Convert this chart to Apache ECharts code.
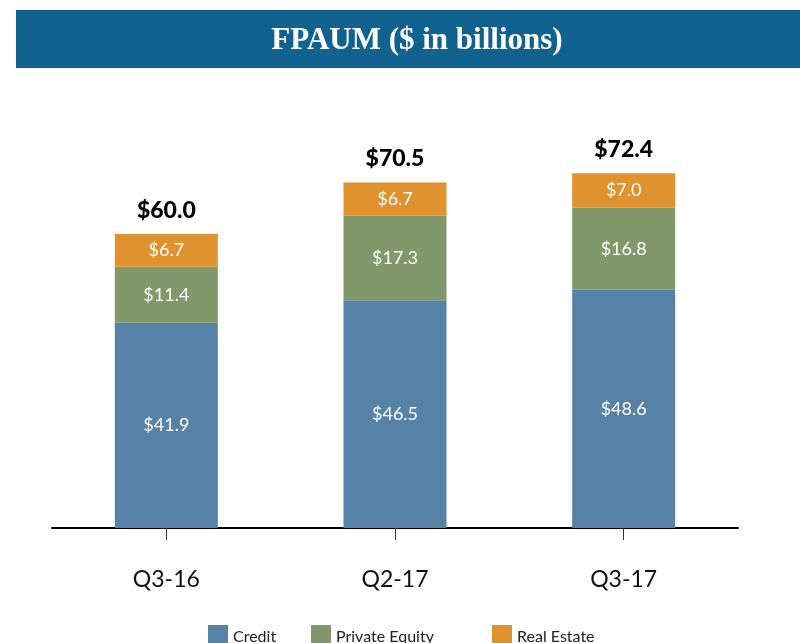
<!DOCTYPE html>
<html>
<head>
<meta charset="utf-8">
<script src="https://cdn.jsdelivr.net/npm/echarts@6/dist/echarts.min.js"></script>
<style>
  html, body { margin: 0; padding: 0; background: #fff; }
  #chart { width: 800px; height: 643px; }
</style>
</head>
<body>
<div id="chart"></div>
<script>
const quarters = ['Q3-16', 'Q2-17', 'Q3-17']
const credit = [41.9, 46.5, 48.6]
const privateEquity = [11.4, 17.3, 16.8]
const realEstate = [6.7, 6.7, 7.0]
const colors = ['#5782a8', '#81996a', '#e0922f']

const totals = quarters.map((q, i) => credit[i] + privateEquity[i] + realEstate[i])

const myChart = echarts.init(document.getElementById('chart'))

const insideLabel = {
  show: true,
  position: 'inside',
  color: '#fff',
  fontSize: 18,
  fontFamily: 'Lato',
  formatter: p => '$' + p.value.toFixed(1)
}

function legendAt(left, name) {
  return {
    left: left,
    top: 620,
    itemWidth: 20,
    itemHeight: 23,
    itemGap: 0,
    icon: 'rect',
    data: [name],
    textStyle: { fontSize: 16, fontFamily: 'Lato', color: '#222', padding: [8, 0, 0, 0] }
  }
}

const option = {
  animation: false,
  graphic: [{
    type: 'rect',
    shape: { x: 16, y: 10, width: 784, height: 58 },
    style: { fill: '#11628f' }
  }],
  title: {
    text: 'FPAUM ($ in billions)',
    left: 412,
    textAlign: 'center',
    top: 20,
    textStyle: { color: '#fff', fontSize: 31, fontWeight: 'bold', fontFamily: 'Liberation Serif' }
  },
  legend: [
    legendAt(203, 'Credit'),
    legendAt(306, 'Private Equity'),
    legendAt(487, 'Real Estate')
  ],
  grid: { left: 52, right: 62, top: 136, bottom: 115 },
  xAxis: {
    type: 'category',
    data: quarters,
    axisLine: { lineStyle: { color: '#000', width: 2 } },
    axisTick: { show: true, alignWithLabel: true, length: 12, lineStyle: { color: '#333', width: 1 } },
    axisLabel: { margin: 40, fontSize: 23, color: '#111', fontFamily: 'Lato' }
  },
  yAxis: { type: 'value', min: 0, max: 80, show: false, splitLine: { show: false } },
  series: [
    {
      name: 'Credit', type: 'bar', stack: 'aum', barWidth: 103,
      data: credit, itemStyle: { color: colors[0] }, label: insideLabel
    },
    {
      name: 'Private Equity', type: 'bar', stack: 'aum',
      data: privateEquity, itemStyle: { color: colors[1] }, label: insideLabel
    },
    {
      name: 'Real Estate', type: 'bar', stack: 'aum',
      data: realEstate, itemStyle: { color: colors[2] }, label: insideLabel
    },
    {
      name: 'Total', type: 'bar', stack: 'aum',
      data: totals.map(() => 0),
      itemStyle: { color: 'transparent' },
      label: {
        show: true,
        position: 'top',
        distance: 12,
        color: '#000',
        fontSize: 23,
        fontWeight: 900,
        fontFamily: 'Lato',
        formatter: p => '$' + totals[p.dataIndex].toFixed(1)
      }
    }
  ]
}

myChart.setOption(option)
</script>
</body>
</html>
